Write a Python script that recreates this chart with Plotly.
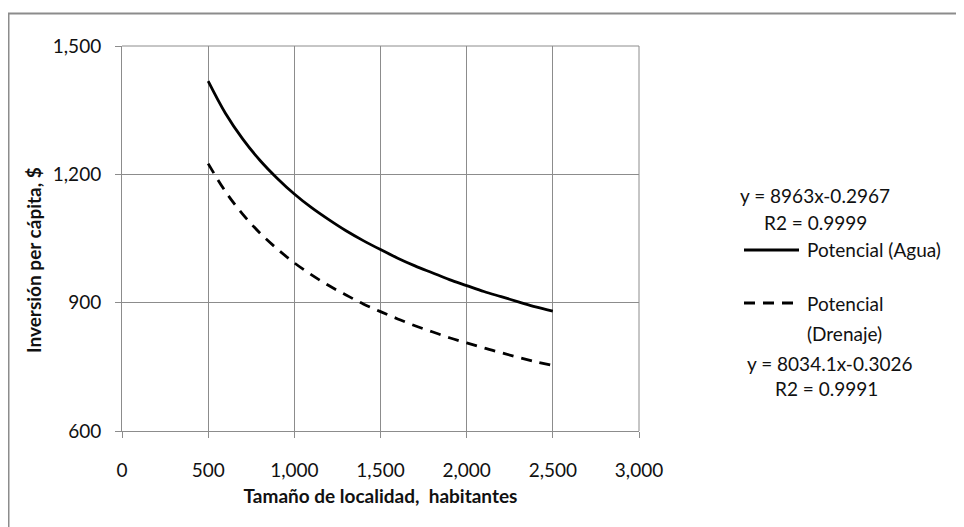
import plotly.graph_objects as go

# Data (power trend lines)
habitantes = [500, 600, 700, 800, 900, 1000, 1100, 1200, 1300, 1400, 1500,
              1600, 1700, 1800, 1900, 2000, 2100, 2200, 2300, 2400, 2500]
agua = [1418, 1343, 1283, 1233, 1191, 1154, 1122, 1094, 1068, 1045, 1024,
        1004, 986, 970, 954, 940, 926, 914, 902, 890, 880]
drenaje = [1225, 1160, 1107, 1063, 1026, 993, 965, 940, 918, 897, 879,
           862, 846, 832, 818, 806, 794, 783, 772, 762, 753]

x_ticks = [0, 500, 1000, 1500, 2000, 2500, 3000]
x_tick_labels = ["0", "500", "1,000", "1,500", "2,000", "2,500", "3,000"]
y_ticks = [600, 900, 1200, 1500]
y_tick_labels = ["600", "900", "1,200", "1,500"]

FONT = "Lato, Calibri, Carlito, sans-serif"
OFF = 8  # page body margin
W, H = 964 - OFF, 527 - OFF
# plot area in image pixels: x 122..639, y 46..431
PL, PR, PT, PB = 122, 639, 46, 431
PW, PH = PR - PL, PB - PT
L, T = PL - OFF, PT - OFF
R, B = W - L - PW, H - T - PH


def px(xi):
    return (xi - PL) / PW


def py(yi):
    return (PB - yi) / PH


DASH = "11px,8px"
fig = go.Figure()
fig.add_trace(go.Scatter(x=habitantes, y=agua, mode="lines",
                         line=dict(color="black", width=2.8, shape="spline"),
                         name="Potencial (Agua)", showlegend=False))
fig.add_trace(go.Scatter(x=habitantes, y=drenaje, mode="lines",
                         line=dict(color="black", width=2.8, dash=DASH, shape="spline"),
                         name="Potencial (Drenaje)", showlegend=False))

grid = "#8c8c8c"
tickfont = dict(family=FONT, size=19, color="#111")
fig.update_xaxes(range=[0, 3000], tickvals=x_ticks, ticktext=x_tick_labels,
                 showgrid=True, gridcolor=grid, gridwidth=1,
                 showline=True, linecolor=grid, linewidth=1,
                 ticks="outside", ticklen=6, tickcolor=grid,
                 ticklabelstandoff=16,
                 zeroline=False, tickfont=tickfont,
                 title=dict(text="<b>Tamaño de localidad,  habitantes</b>",
                            font=dict(family=FONT, size=19, color="#111"), standoff=9))
fig.update_yaxes(range=[600, 1500], tickvals=y_ticks, ticktext=y_tick_labels,
                 showgrid=True, gridcolor=grid, gridwidth=1,
                 showline=True, linecolor=grid, linewidth=1,
                 ticks="outside", ticklen=6, tickcolor=grid,
                 ticklabelstandoff=10,
                 zeroline=False, tickfont=tickfont)

shapes = [
    dict(type="line", xref="paper", yref="paper", x0=0, x1=1, y0=1, y1=1,
         line=dict(color=grid, width=1)),
    dict(type="line", xref="paper", yref="paper", x0=1, x1=1, y0=0, y1=1,
         line=dict(color=grid, width=1)),
    # chart area border
    dict(type="rect", xref="paper", yref="paper", x0=px(8.5), x1=px(985),
         y0=py(545), y1=py(13.5), line=dict(color="#8c8c8c", width=2)),
    # legend samples
    dict(type="line", xref="paper", yref="paper", x0=px(744), x1=px(799),
         y0=py(250), y1=py(250), line=dict(color="black", width=2.8)),
    dict(type="line", xref="paper", yref="paper", x0=px(744), x1=px(799),
         y0=py(303), y1=py(303), line=dict(color="black", width=2.8, dash=DASH)),
]

tf = dict(family=FONT, size=19, color="#111")
annotations = [
    dict(text="y = 8963x-0.2967", x=px(815), y=py(195), xanchor="center", yanchor="middle"),
    dict(text="R2 = 0.9999", x=px(815), y=py(222), xanchor="center", yanchor="middle"),
    dict(text="Potencial (Agua)", x=px(805), y=py(250), xanchor="left", yanchor="middle"),
    dict(text="Potencial", x=px(805), y=py(303), xanchor="left", yanchor="middle"),
    dict(text="(Drenaje)", x=px(805), y=py(333), xanchor="left", yanchor="middle"),
    dict(text="y = 8034.1x-0.3026", x=px(829), y=py(363), xanchor="center", yanchor="middle"),
    dict(text="R2 = 0.9991", x=px(826), y=py(388), xanchor="center", yanchor="middle"),
    dict(text="<b>Inversión per cápita, $</b>", x=px(33), y=py(260), textangle=-90,
         xanchor="center", yanchor="middle"),
]
for a in annotations:
    a.update(xref="paper", yref="paper", showarrow=False, font=tf)

fig.update_layout(width=W, height=H, margin=dict(l=L, r=R, t=T, b=B, pad=0),
                  paper_bgcolor="white", plot_bgcolor="white",
                  shapes=shapes, annotations=annotations, showlegend=False)

fig.write_html("out.html")
